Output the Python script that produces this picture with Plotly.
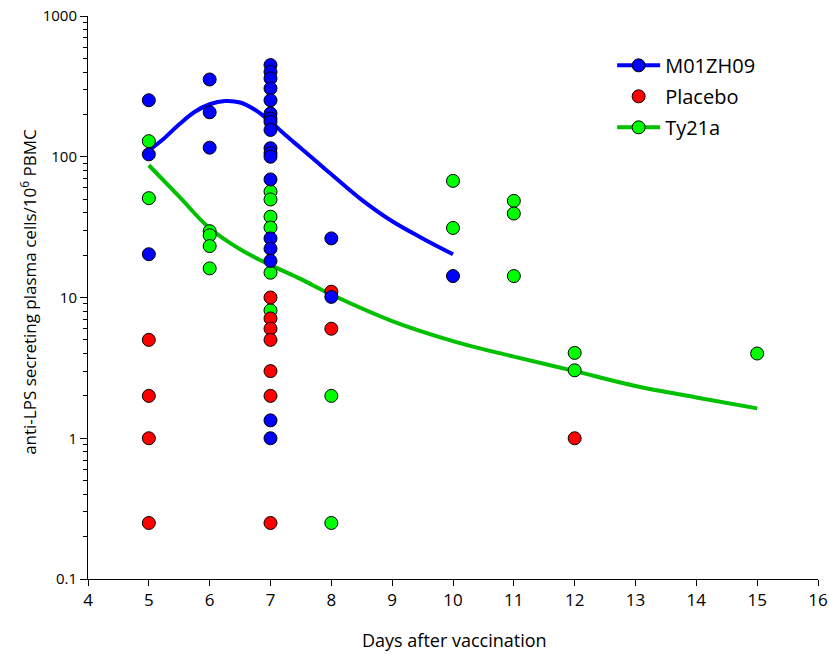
import plotly.graph_objects as go

# ---- data ----
m01_days = [5, 5, 5,
            6, 6, 6,
            7, 7, 7, 7, 7, 7, 7, 7, 7, 7, 7, 7, 7, 7, 7, 7, 7, 7,
            8, 8,
            10]
m01_vals = [252, 104, 20.3,
            354, 207, 116,
            448, 401, 360, 306, 252, 203, 187, 177, 155, 115, 106, 100, 69, 26.3, 22.2, 18.2, 1.34, 1.0,
            26.3, 10.1,
            14.2]

placebo_days = [5, 5, 5, 5,
                7, 7, 7, 7, 7, 7, 7,
                8, 8,
                12]
placebo_vals = [5.0, 2.0, 1.0, 0.25,
                10.0, 7.1, 6.0, 5.0, 3.0, 2.0, 0.25,
                11.0, 6.0,
                1.0]

ty_days = [5, 5,
           6, 6, 6, 6,
           7, 7, 7, 7, 7, 7,
           8, 8,
           10, 10,
           11, 11, 11,
           12, 12,
           15]
ty_vals = [129, 50.8,
           29.6, 27.7, 23.2, 16.1,
           56.6, 49.7, 37.5, 31.4, 15.0, 8.1,
           2.0, 0.25,
           67.4, 31.2,
           48.6, 39.5, 14.2,
           4.04, 3.04,
           4.0]

# fitted curves
m01_fit_days = [5, 5.25, 5.5, 5.75, 6, 6.25, 6.5, 6.75, 7, 7.25, 7.5, 7.75, 8, 8.5, 9, 9.5, 10]
m01_fit_vals = [111, 135, 170, 208, 236, 249, 243, 215, 178, 142, 115, 93, 75, 49.4, 34.8, 26.3, 20.3]

ty_fit_days = [5, 5.5, 6, 6.5, 7, 7.5, 8, 9, 10, 11, 12, 13, 14, 15]
ty_fit_vals = [87, 52, 31, 22, 17, 13.5, 10.5, 6.8, 4.9, 3.8, 3.0, 2.35, 1.95, 1.63]

series_names = ["M01ZH09", "Placebo", "Ty21a"]

x_ticks = list(range(4, 17))
y_tickvals = [0.1, 1, 10, 100, 1000]
y_ticktext = ["0.1", "1", "10", "100", "1000"]

x_title = "Days after vaccination"
y_title = "anti-LPS secreting plasma cells/10<sup>6</sup> PBMC"

BLUE = "#0000FF"
RED = "#FF0000"
GREEN = "#00FF00"
GREEN_LINE = "#00C000"
FONT = "Open Sans"

fig = go.Figure()

# curves
fig.add_trace(go.Scatter(x=m01_fit_days, y=m01_fit_vals, mode="lines", line=dict(color=BLUE, width=4, shape="spline"),
                         showlegend=False, hoverinfo="skip"))
fig.add_trace(go.Scatter(x=ty_fit_days, y=ty_fit_vals, mode="lines", line=dict(color=GREEN_LINE, width=4, shape="spline"),
                         showlegend=False, hoverinfo="skip"))

mk = lambda c: dict(color=c, size=13, line=dict(color="black", width=1))

# points (green, then red, then blue on top)
fig.add_trace(go.Scatter(x=ty_days, y=ty_vals, mode="markers", marker=mk(GREEN), showlegend=False))
fig.add_trace(go.Scatter(x=placebo_days, y=placebo_vals, mode="markers", marker=mk(RED), showlegend=False))
fig.add_trace(go.Scatter(x=m01_days, y=m01_vals, mode="markers", marker=mk(BLUE), showlegend=False))

# legend entries
fig.add_trace(go.Scatter(x=[None], y=[None], mode="lines+markers", name=series_names[0], legendgroup="a",
                         marker=mk(BLUE), line=dict(color=BLUE, width=4)))
fig.add_trace(go.Scatter(x=[None], y=[None], mode="markers", name=series_names[1], legendgroup="b",
                         marker=mk(RED)))
fig.add_trace(go.Scatter(x=[None], y=[None], mode="lines+markers", name=series_names[2], legendgroup="c",
                         marker=mk(GREEN), line=dict(color=GREEN_LINE, width=4)))

fig.update_layout(
    width=829, height=655,
    margin=dict(l=88, r=11, t=16, b=76, autoexpand=False),
    paper_bgcolor="white", plot_bgcolor="white",
    font=dict(family=FONT, color="black", size=15),
    legend=dict(x=0.718, y=0.947, xanchor="left", yanchor="top", font=dict(size=20, family=FONT),
                itemwidth=43, tracegroupgap=2, bgcolor="rgba(0,0,0,0)", traceorder="grouped"),
    xaxis=dict(range=[4, 16], tickvals=x_ticks, ticks="outside", ticklen=6, tickwidth=1, tickcolor="black",
               showline=True, linecolor="black", linewidth=1, showgrid=False, zeroline=False,
               tickfont=dict(size=17), automargin=False, ticklabeloverflow="allow"),
    yaxis=dict(type="log", range=[-1, 3], tickvals=y_tickvals, ticktext=y_ticktext,
               ticks="outside", ticklen=7, tickwidth=1, tickcolor="black",
               minor=dict(ticks="outside", ticklen=4, tickcolor="black", dtick="D1", showgrid=False),
               showline=True, linecolor="black", linewidth=1, showgrid=False, zeroline=False,
               tickfont=dict(size=15), automargin=False, ticklabeloverflow="allow"),
    annotations=[
        dict(text=x_title, xref="paper", yref="paper", x=(454 - 88) / 730, y=(579 - 640) / 563,
             xanchor="center", yanchor="middle", showarrow=False, font=dict(size=18)),
        dict(text=y_title, xref="paper", yref="paper", x=(29 - 88) / 730, y=0.51, textangle=-90,
             xanchor="center", yanchor="middle", showarrow=False, font=dict(size=17)),
    ],
)

# remove the browser's default body margin so the 829x655 figure fills the window exactly
fig.write_html("out.html", config={"displayModeBar": False},
               post_script="document.body.style.margin='0';document.body.style.overflow='hidden';")
